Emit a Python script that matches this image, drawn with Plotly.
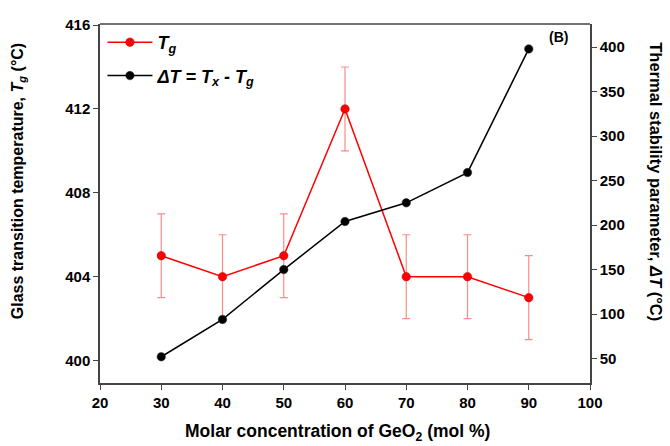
import plotly.graph_objects as go

# Data
geo2 = [30, 40, 50, 60, 70, 80, 90]
tg = [405, 404, 405, 412, 404, 404, 403]
tg_err = [2, 2, 2, 2, 2, 2, 2]
delta_t = [52, 94, 150, 204, 225, 259, 398]

x_ticks = [20, 30, 40, 50, 60, 70, 80, 90, 100]
y_ticks = [400, 404, 408, 412, 416]
y2_ticks = [50, 100, 150, 200, 250, 300, 350, 400]

FONT = "Liberation Sans"
AX = "#444"
X_RANGE = [20, 100]
Y_RANGE = [398.93, 416.05]
Y2_RANGE = [22.5, 426]


def bold(vals):
    return ["<b>%s</b>" % v for v in vals]


fig = go.Figure()
fig.add_trace(go.Scatter(
    x=geo2, y=tg, mode="lines+markers", name="<b><i>T<sub>g</sub></i></b>",
    legendgroup="a",
    line=dict(color="red", width=1.5),
    marker=dict(color="red", size=8.5, line=dict(color="#c00000", width=0.5)),
    error_y=dict(type="data", array=tg_err, visible=True,
                 color="rgba(255,60,60,0.6)", thickness=1.2, width=4),
    xaxis="x", yaxis="y",
))
fig.add_trace(go.Scatter(
    x=geo2, y=delta_t, mode="lines+markers",
    name="<b><i>ΔT</i> = <i>T<sub>x</sub></i> - <i>T<sub>g</sub></i></b>",
    legendgroup="b",
    line=dict(color="black", width=1.5),
    marker=dict(color="black", size=8.5, line=dict(color="#333", width=0.5)),
    xaxis="x", yaxis="y2",
))

tickf = dict(family=FONT, size=15, color="black")
common = dict(showgrid=False, zeroline=False, tickcolor=AX, tickwidth=1.2)

fig.update_layout(
    template="none",
    font=dict(family=FONT, size=15, color="black"),
    width=670, height=446,
    margin=dict(l=100, r=80, t=24, b=63),
    paper_bgcolor="white", plot_bgcolor="white",
    showlegend=True,
    legend=dict(x=0.005, y=1.0, xanchor="left", yanchor="top",
                bgcolor="rgba(0,0,0,0)", traceorder="grouped",
                font=dict(family=FONT, size=18, color="black", style="italic"),
                tracegroupgap=7, itemwidth=45),
    xaxis=dict(range=X_RANGE, tickmode="array", tickvals=x_ticks, ticktext=bold(x_ticks),
               ticks="outside", ticklen=5, showline=True, linecolor=AX, linewidth=1.5,
               tickfont=tickf, anchor="y", **common),
    yaxis=dict(range=Y_RANGE, tickmode="array", tickvals=y_ticks, ticktext=bold(y_ticks),
               ticks="outside", ticklen=5, showline=True, linecolor=AX, linewidth=1.5,
               tickfont=tickf, anchor="x", **common),
    yaxis2=dict(range=Y2_RANGE, overlaying="y", side="right", anchor="x",
                tickmode="array", tickvals=y2_ticks, ticktext=bold(y2_ticks),
                ticks="outside", ticklen=5, showline=True, linecolor=AX, linewidth=1.5,
                tickfont=tickf, **common),
    # minor-tick overlay axes (no labels)
    xaxis2=dict(range=X_RANGE, overlaying="x", anchor="y", side="bottom",
                tick0=20, dtick=5, ticks="outside", ticklen=3, showticklabels=False,
                **common),
    yaxis3=dict(range=Y_RANGE, overlaying="y", anchor="x", side="left",
                tick0=400, dtick=2, ticks="outside", ticklen=3, showticklabels=False,
                **common),
    yaxis4=dict(range=Y2_RANGE, overlaying="y", anchor="x", side="right",
                tick0=0, dtick=25, ticks="outside", ticklen=3, showticklabels=False,
                **common),
)

# top frame line
fig.add_shape(type="line", xref="paper", yref="paper", x0=0, x1=1, y0=1, y1=1,
              line=dict(color=AX, width=1.5))

fig.add_annotation(text="<b>(B)</b>", xref="paper", yref="paper", x=0.935, y=0.965,
                   xanchor="center", yanchor="middle", showarrow=False,
                   font=dict(family=FONT, size=14, color="black"))
# axis titles as annotations for exact placement
fig.add_annotation(text="<b>Molar concentration of GeO<sub>2</sub> (mol %)</b>",
                   xref="paper", yref="paper", x=0.484, y=0, yshift=-49,
                   showarrow=False, xanchor="center", yanchor="middle",
                   font=dict(family=FONT, size=17.5, color="black"))
fig.add_annotation(text="<b>Glass transition temperature, <i>T<sub>g</sub></i> (°C)</b>",
                   xref="paper", yref="paper", x=0, xshift=-82, y=0.562,
                   textangle=-90, showarrow=False, xanchor="center", yanchor="middle",
                   font=dict(family=FONT, size=16, color="black"))
fig.add_annotation(text="<b>Thermal stability parameter, <i>ΔT</i> (°C)</b>",
                   xref="paper", yref="paper", x=1.0, xshift=66, y=0.562,
                   textangle=90, showarrow=False, xanchor="center", yanchor="middle",
                   font=dict(family=FONT, size=16.5, color="black"))

fig.write_html("out.html")
